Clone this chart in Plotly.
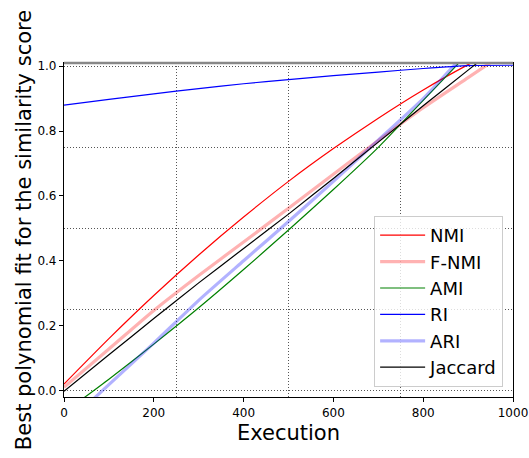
import plotly.graph_objects as go

# ---- data ----
execution = [0, 100, 200, 300, 400, 500, 600, 700, 800, 900, 1000]

nmi     = [0.020, 0.160, 0.293, 0.418, 0.535, 0.645, 0.746, 0.840, 0.927, 1.005, 1.076]
f_nmi   = [0.010, 0.128, 0.247, 0.355, 0.458, 0.562, 0.667, 0.771, 0.872, 0.965, 1.058]
ami     = [-0.068, 0.035, 0.143, 0.255, 0.373, 0.495, 0.620, 0.750, 0.895, 1.040, 1.190]
ri      = [0.880, 0.898, 0.915, 0.931, 0.946, 0.959, 0.971, 0.982, 0.993, 1.002, 1.003]
ari     = [-0.110, 0.018, 0.146, 0.278, 0.400, 0.521, 0.645, 0.772, 0.900, 1.050, 1.200]
jaccard = [-0.002, 0.110, 0.222, 0.332, 0.438, 0.544, 0.654, 0.766, 0.878, 0.988, 1.097]

series_names = ["NMI", "F-NMI", "AMI", "RI", "ARI", "Jaccard"]
series_vals = [nmi, f_nmi, ami, ri, ari, jaccard]
series_colors = ["#ff0000", "rgba(255,0,0,0.3)", "#008000", "#0000ff",
                 "rgba(0,0,255,0.3)", "#000000"]
series_widths = [1.2, 3.2, 1.2, 1.2, 3.2, 1.2]

x_ticks = [0, 200, 400, 600, 800, 1000]
y_ticks = [0.0, 0.2, 0.4, 0.6, 0.8, 1.0]
y_tick_text = ["0.0", "0.2", "0.4", "0.6", "0.8", "1.0"]
x_grid = [250, 500, 750]
y_grid = [0.0, 0.25, 0.5, 0.75, 1.0]

FONT = "DejaVu Sans"

fig = go.Figure()
for name, vals, col, w in zip(series_names, series_vals, series_colors, series_widths):
    fig.add_trace(go.Scatter(
        x=execution, y=vals, name=name, mode="lines",
        line=dict(color=col, width=w, shape="spline", smoothing=0.6),
    ))

axis_common = dict(
    showline=True, linecolor="black", linewidth=1.2, mirror=True,
    ticks="outside", ticklen=4, tickwidth=1, tickcolor="black",
    showgrid=False, zeroline=False, automargin=False,
    tickfont=dict(family=FONT, size=12, color="black"),
)

grid_style = dict(showgrid=True, griddash="1px,2px", gridcolor="#555555",
                  gridwidth=1, ticklen=0)

fig.update_xaxes(
    range=[0, 1000], tickvals=x_ticks,
    title=dict(text="Execution", font=dict(family=FONT, size=21, color="black"), standoff=6),
    minor=dict(tickvals=x_grid, **grid_style),
    **axis_common,
)
fig.update_yaxes(
    range=[-0.02, 1.01], tickvals=y_ticks, ticktext=y_tick_text,
    title=dict(text="Best polynomial fit for the similarity score",
               font=dict(family=FONT, size=21, color="black"), standoff=0),
    minor=dict(tickvals=y_grid, **grid_style),
    **axis_common,
)

# gray top border as in the reference
fig.add_shape(type="line", xref="x domain", yref="y domain",
              x0=0, x1=1, y0=1, y1=1, line=dict(color="#888888", width=2.5))

fig.update_layout(
    width=529, height=458,
    margin=dict(l=64, r=16, t=63, b=61),
    paper_bgcolor="white", plot_bgcolor="white",
    font=dict(family=FONT, color="black"),
    legend=dict(
        x=0.978, y=0.03, xanchor="right", yanchor="bottom",
        bgcolor="rgba(255,255,255,0.8)", bordercolor="#cccccc", borderwidth=1,
        font=dict(family=FONT, size=18, color="black"),
        itemwidth=45,
    ),
    showlegend=True,
)

fig.write_html("out.html")
